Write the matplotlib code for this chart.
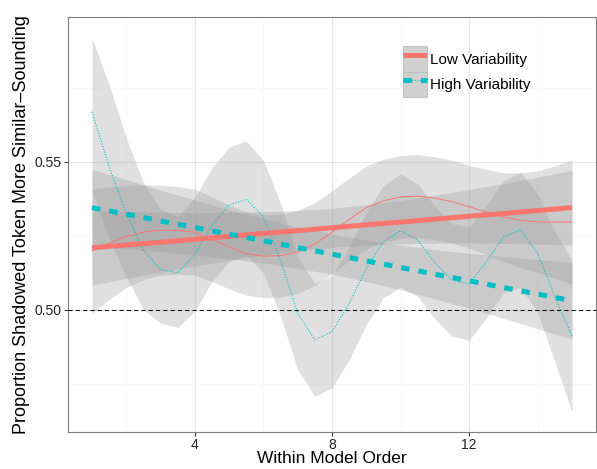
import matplotlib
matplotlib.use("Agg")
import matplotlib.pyplot as plt
from matplotlib.patches import Patch
from matplotlib.lines import Line2D
from matplotlib.legend_handler import HandlerTuple

plt.rcParams['font.family'] = ['Liberation Sans', 'DejaVu Sans']

# smooth (loess) curves, read every 0.5 along the x axis
x_smooth = [1, 1.5, 2, 2.5, 3, 3.5, 4, 4.5, 5, 5.5, 6, 6.5, 7, 7.5, 8,
            8.5, 9, 9.5, 10, 10.5, 11, 11.5, 12, 12.5, 13, 13.5, 14, 14.5, 15]

low_loess = [0.5198, 0.5225, 0.5247, 0.5262, 0.5269, 0.5268, 0.5262, 0.5238, 0.5212, 0.5190,
             0.5181, 0.5183, 0.5195, 0.5222, 0.5262, 0.5305, 0.5345, 0.5368, 0.5381, 0.5384,
             0.5377, 0.5365, 0.5348, 0.5330, 0.5313, 0.5302, 0.5297, 0.5296, 0.5296]
low_loess_hi = [0.5408, 0.5415, 0.5419, 0.5422, 0.5421, 0.5416, 0.5407, 0.5381, 0.5354, 0.5331,
                0.5321, 0.5323, 0.5335, 0.5362, 0.5402, 0.5445, 0.5485, 0.5508, 0.5521, 0.5524,
                0.5517, 0.5505, 0.5488, 0.5475, 0.5463, 0.5462, 0.5469, 0.5486, 0.5506]
low_loess_lo = [0.4988, 0.5035, 0.5075, 0.5102, 0.5117, 0.5120, 0.5117, 0.5095, 0.5070, 0.5049,
                0.5041, 0.5043, 0.5055, 0.5082, 0.5122, 0.5165, 0.5205, 0.5228, 0.5241, 0.5244,
                0.5237, 0.5225, 0.5208, 0.5185, 0.5163, 0.5142, 0.5125, 0.5106, 0.5086]

high_loess = [0.5669, 0.5483, 0.5325, 0.5202, 0.5136, 0.5125, 0.5185, 0.5286, 0.5354, 0.5373,
              0.5314, 0.5168, 0.4988, 0.4898, 0.4926, 0.5021, 0.5140, 0.5230, 0.5267, 0.5235,
              0.5159, 0.5100, 0.5087, 0.5162, 0.5246, 0.5270, 0.5190, 0.5044, 0.4911]
high_loess_hi = [0.5917, 0.5760, 0.5580, 0.5430, 0.5340, 0.5315, 0.5380, 0.5480, 0.5550, 0.5570,
                 0.5505, 0.5360, 0.5180, 0.5088, 0.5115, 0.5210, 0.5330, 0.5420, 0.5460, 0.5425,
                 0.5350, 0.5290, 0.5278, 0.5352, 0.5436, 0.5465, 0.5390, 0.5264, 0.5167]
high_loess_lo = [0.5404, 0.5240, 0.5110, 0.5000, 0.4955, 0.4940, 0.4995, 0.5096, 0.5164, 0.5183,
                 0.5124, 0.4978, 0.4798, 0.4708, 0.4736, 0.4831, 0.4950, 0.5040, 0.5077, 0.5045,
                 0.4969, 0.4910, 0.4897, 0.4972, 0.5056, 0.5075, 0.4990, 0.4824, 0.4655]

# linear fits with their confidence bands
x_lm = [1, 2, 3, 4, 5, 6, 7, 8, 9, 10, 11, 12, 13, 14, 15]

low_lm = [0.5209, 0.5219, 0.5228, 0.5238, 0.5248, 0.5258, 0.5267, 0.5277,
          0.5287, 0.5296, 0.5306, 0.5316, 0.5325, 0.5335, 0.5345]
low_lm_hi = [0.5335, 0.5332, 0.5329, 0.5328, 0.5329, 0.5331, 0.5335, 0.5343,
             0.5355, 0.5369, 0.5387, 0.5406, 0.5426, 0.5448, 0.5471]
low_lm_lo = [0.5083, 0.5106, 0.5127, 0.5148, 0.5167, 0.5185, 0.5199, 0.5211,
             0.5219, 0.5223, 0.5225, 0.5226, 0.5224, 0.5222, 0.5219]

high_lm = [0.5345, 0.5323, 0.5300, 0.5278, 0.5255, 0.5233, 0.5210, 0.5188,
           0.5165, 0.5143, 0.5120, 0.5098, 0.5075, 0.5053, 0.5030]
high_lm_hi = [0.5475, 0.5440, 0.5404, 0.5371, 0.5338, 0.5308, 0.5280, 0.5256,
              0.5235, 0.5218, 0.5203, 0.5191, 0.5179, 0.5170, 0.5160]
high_lm_lo = [0.5215, 0.5206, 0.5196, 0.5185, 0.5172, 0.5158, 0.5140, 0.5120,
              0.5095, 0.5068, 0.5037, 0.5005, 0.4971, 0.4936, 0.4900]

labels = ["Low Variability", "High Variability"]
red = "#F8766D"
cyan = "#00BFC4"
band = "#999999"
band_alpha = 0.3

fig = plt.figure(figsize=(5.97, 4.69), dpi=100)
ax = fig.add_axes([68/597, 37/469, 528/597, 415/469])

# ribbons
ax.fill_between(x_smooth, low_loess_lo, low_loess_hi, color=band, alpha=band_alpha, lw=0, zorder=2)
ax.fill_between(x_smooth, high_loess_lo, high_loess_hi, color=band, alpha=band_alpha, lw=0, zorder=2)
ax.fill_between(x_lm, low_lm_lo, low_lm_hi, color=band, alpha=band_alpha, lw=0, zorder=2)
ax.fill_between(x_lm, high_lm_lo, high_lm_hi, color=band, alpha=band_alpha, lw=0, zorder=2)

ax.axhline(0.50, color="black", lw=0.75, linestyle=(0, (4, 3)), zorder=3)

# lines
ax.plot(x_smooth, low_loess, color=red, lw=0.7, zorder=4)
ax.plot(x_smooth, high_loess, color=cyan, lw=0.8, linestyle=(0, (1, 1.5)), zorder=4)
ax.plot(x_lm, low_lm, color=red, lw=3.6, solid_capstyle="butt", zorder=5)
ax.plot(x_lm, high_lm, color=cyan, lw=3.6, linestyle=(0, (1.7, 1.8)),
        dash_capstyle="butt", zorder=5)

ax.set_xlim(0.3, 15.7)
ax.set_ylim(0.4587, 0.5989)
ax.set_xticks([4, 8, 12])
ax.set_xticks([2, 6, 10, 14], minor=True)
ax.set_yticks([0.50, 0.55])
ax.set_yticklabels(["0.50", "0.55"])
ax.set_yticks([0.475, 0.525, 0.575], minor=True)
ax.grid(which="major", color="#E5E5E5", lw=0.8, zorder=0)
ax.grid(which="minor", color="#F7F7F7", lw=0.6, zorder=0)
ax.set_axisbelow(True)
ax.tick_params(which="major", direction="out", length=3, width=0.8, color="#333333",
               labelsize=10, labelcolor="#222222", pad=2)
ax.tick_params(axis="x", which="major", pad=1)
ax.tick_params(which="minor", length=0)
for s in ax.spines.values():
    s.set_color("#7F7F7F")
    s.set_linewidth(0.8)

ax.set_xlabel("Within Model Order", fontsize=12.5, labelpad=-0.5)
ax.set_ylabel("Proportion Shadowed Token More Similar\u2013Sounding", fontsize=13, labelpad=3)

# legend keys: grey ribbon square with the two lines on top
key_bg = Patch(facecolor="#D0D0D0", edgecolor="#BDBDBD", lw=0.6)
h_low = (key_bg,
         Line2D([], [], color=red, lw=3.6, solid_capstyle="butt"),
         Line2D([], [], color=red, lw=0.7, solid_capstyle="butt"))
h_high = (key_bg,
          Line2D([], [], color=cyan, lw=3.6, linestyle=(0, (1.7, 1.8)), dash_capstyle="butt"),
          Line2D([], [], color=cyan, lw=0.8, linestyle=(0, (1, 1.5)), dash_capstyle="butt"))
ax.legend([h_low, h_high], labels, handler_map={tuple: HandlerTuple(ndivide=1)},
          loc="upper left", bbox_to_anchor=(403/597, 1 - 46/469),
          bbox_transform=fig.transFigure, frameon=False, fontsize=11,
          handlelength=1.6, handleheight=2.2, labelspacing=0.0,
          handletextpad=0.2, borderpad=0, borderaxespad=0)

fig.savefig("out.png", dpi=100)
